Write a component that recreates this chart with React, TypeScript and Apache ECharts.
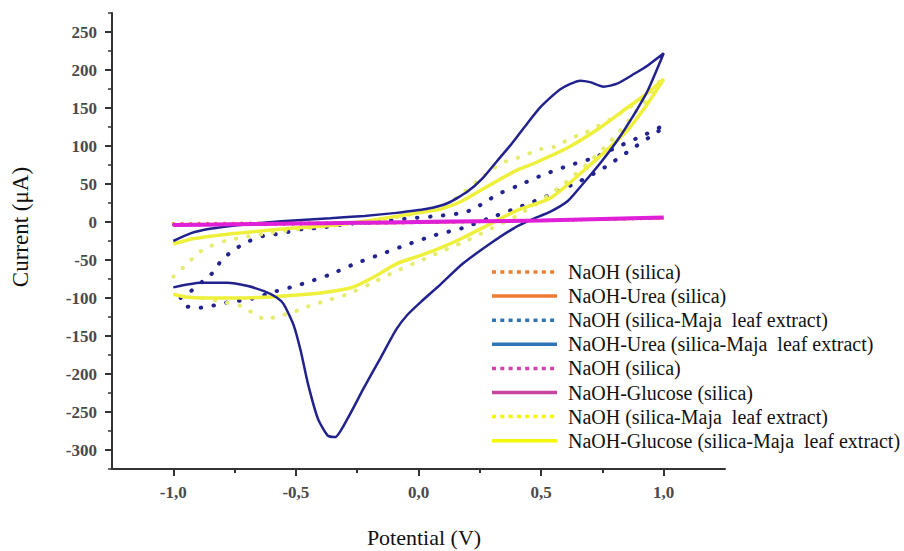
import React, { useEffect, useRef } from "react";
import * as echarts from "echarts";

// ---- data (potential V, current µA) ----
const xTickValues = [-1, -0.5, 0, 0.5, 1];
const xMinorTickValues = [-0.75, -0.25, 0.25, 0.75];
const yTickValues = [-300, -250, -200, -150, -100, -50, 0, 50, 100, 150, 200, 250];

const legendLabels = [
  "NaOH (silica)",
  "NaOH-Urea (silica)",
  "NaOH (silica-Maja  leaf extract)",
  "NaOH-Urea (silica-Maja  leaf extract)",
  "NaOH (silica)",
  "NaOH-Glucose (silica)",
  "NaOH (silica-Maja  leaf extract)",
  "NaOH-Glucose (silica-Maja  leaf extract)",
];
const legendColors = ["#ED7D31", "#ED7D31", "#2E75B6", "#2E75B6", "#D63FAE", "#C8449E", "#F5F50A", "#F5F50A"];
const legendDotted = [true, false, true, false, true, false, true, false];

const orangeDotted = [[-1, -2], [-0.5, -1], [0, 0], [0.5, 2], [1, 5]];
const orangeSolid = [[-1, -3], [-0.5, -2], [0, -1], [0.5, 2], [1, 5]];
const magentaDotted = [[-1, -4], [-0.5, -3], [0, -1], [0.5, 2], [1, 5]];

const navyDotted = [
  [-0.97, -100], [-0.94, -94], [-0.88, -78], [-0.84, -67], [-0.8, -49], [-0.74, -34], [-0.69, -25],
  [-0.63, -18], [-0.58, -16], [-0.53, -13], [-0.47, -9], [-0.41, -8], [-0.3, -3], [-0.155, 1],
  [-0.03, 5], [0.08, 8], [0.18, 12], [0.23, 18], [0.29, 30], [0.34, 39], [0.4, 47], [0.5, 61],
  [0.61, 74], [0.71, 84], [0.82, 100], [0.93, 116], [1.0, 127],
  [0.98, 120], [0.87, 96], [0.77, 74], [0.66, 54], [0.51, 32], [0.445, 24], [0.39, 17], [0.28, 4],
  [0.18, -8], [0.07, -17], [-0.04, -29], [-0.15, -42], [-0.26, -55], [-0.36, -69], [-0.45, -79],
  [-0.5, -84], [-0.58, -91], [-0.69, -102], [-0.74, -104], [-0.8, -107], [-0.85, -111],
  [-0.9, -113], [-0.95, -111], [-0.99, -108],
];

const yellowDotted = [
  [-1, -72], [-0.94, -54], [-0.9, -41], [-0.85, -32], [-0.79, -25], [-0.73, -21], [-0.6, -14],
  [-0.45, -8], [-0.3, -3], [-0.15, 3], [0.0, 12], [0.1, 20], [0.18, 38], [0.24, 54], [0.335, 77],
  [0.4, 84], [0.5, 96], [0.57, 100], [0.61, 109], [0.67, 116], [0.72, 124], [0.8, 138], [0.9, 160],
  [1.0, 190],
  [0.98, 178], [0.9, 150], [0.8, 112], [0.7, 80], [0.6, 52], [0.5, 28], [0.4, 8], [0.3, -8],
  [0.2, -24], [0.1, -38], [0.0, -52], [-0.1, -66], [-0.2, -82], [-0.29, -95], [-0.36, -102],
  [-0.41, -107], [-0.47, -113], [-0.52, -120], [-0.58, -124], [-0.62, -129], [-0.67, -121],
  [-0.72, -111], [-0.8, -105], [-0.88, -100],
];

const yellowSolid = [
  [-1, -29], [-0.92, -22], [-0.78, -16], [-0.65, -12], [-0.51, -8], [-0.37, -5], [-0.2, 2],
  [-0.02, 11], [0.09, 17], [0.18, 28], [0.25, 41], [0.32, 54], [0.4, 68], [0.47, 77], [0.61, 98],
  [0.74, 124], [0.85, 150], [0.935, 170], [1.0, 188],
  [0.935, 156], [0.85, 120], [0.7, 75], [0.54, 32], [0.4, 15], [0.29, -3], [0.18, -21],
  [0.09, -34], [0.0, -45], [-0.09, -55], [-0.18, -72], [-0.27, -86], [-0.33, -90], [-0.42, -94],
  [-0.58, -98], [-0.72, -100], [-0.86, -100], [-0.94, -99], [-1.0, -95],
];

const navySolid = [
  [-1.0, -25], [-0.93, -15], [-0.85, -9], [-0.73, -4], [-0.56, 1], [-0.36, 5], [-0.22, 8],
  [-0.09, 12], [0.03, 17], [0.12, 25], [0.2, 40], [0.26, 57], [0.32, 80], [0.38, 103],
  [0.43, 124], [0.5, 152], [0.58, 175], [0.66, 186], [0.7, 184], [0.755, 178], [0.81, 182],
  [0.88, 195], [0.935, 206], [1.0, 222],
  [0.935, 173], [0.88, 142], [0.81, 107], [0.74, 77], [0.67, 50], [0.61, 28], [0.54, 14],
  [0.46, 3], [0.39, -8], [0.29, -29], [0.18, -55], [0.09, -82], [0.01, -105], [-0.045, -122],
  [-0.09, -141], [-0.155, -179], [-0.224, -219], [-0.29, -259], [-0.34, -283], [-0.37, -281],
  [-0.41, -259], [-0.45, -214], [-0.48, -170], [-0.51, -135], [-0.55, -108], [-0.58, -99],
  [-0.63, -91], [-0.7, -84], [-0.78, -80], [-0.89, -80], [-1.0, -86],
];

const magentaSolid = [
  [-1, -4], [-0.75, -3], [-0.5, -2], [-0.25, -1], [0, 0], [0.25, 1], [0.5, 2], [0.75, 4], [1, 6],
];

const SERIF = '"Liberation Serif", "Times New Roman", serif';

export default function App() {
  const ref = useRef<HTMLDivElement>(null);
  useEffect(() => {
    if (!ref.current) return;
    const chart = echarts.init(ref.current, undefined, { renderer: "svg" });

    const dotted = (color: string, width: number, gap: number) => ({
      color,
      width,
      type: [0.5, gap],
      cap: "round",
    });
    const mk = (name: string, data: number[][], lineStyle: any, z: number) => ({
      name,
      type: "line",
      data,
      symbol: "none",
      smooth: 0.2,
      lineStyle,
      z,
      silent: true,
    });

    const legendGraphics: any[] = [];
    legendLabels.forEach((label, i) => {
      const y = 272 + i * 24.1;
      legendGraphics.push({
        type: "line",
        shape: { x1: 492, y1: y, x2: 557, y2: y },
        style: {
          stroke: legendColors[i],
          lineWidth: 3.5,
          lineDash: legendDotted[i] ? [4, 4.3] : null,
        },
      });
      legendGraphics.push({
        type: "text",
        x: 568,
        y,
        style: {
          text: label,
          font: `20px ${SERIF}`,
          fill: "#111",
          verticalAlign: "middle",
          align: "left",
        },
      });
    });

    const labelStyle = {
      color: "#4a4a4a",
      fontFamily: SERIF,
      fontSize: 17,
      fontWeight: "bold",
    };

    chart.setOption({
      animation: false,
      backgroundColor: "#ffffff",
      grid: { left: 112, right: 179, top: 13, bottom: 82, containLabel: false, outerBoundsMode: "none" },
      xAxis: [
        {
          type: "value",
          min: -1.25,
          max: 1.25,
          interval: 0.25,
          splitLine: { show: false },
          axisLine: { show: true, onZero: false, lineStyle: { color: "#333", width: 2 } },
          axisTick: { show: true, length: 7, customValues: xTickValues, lineStyle: { color: "#333", width: 2 } },
          axisLabel: {
            ...labelStyle,
            margin: 15,
            customValues: xTickValues,
            formatter: (v: number) => v.toFixed(1).replace(".", ","),
          },
        },
        {
          type: "value",
          min: -1.25,
          max: 1.25,
          interval: 0.25,
          position: "bottom",
          splitLine: { show: false },
          axisLine: { show: false, onZero: false },
          axisTick: { show: true, length: 4, customValues: xMinorTickValues, lineStyle: { color: "#333", width: 2 } },
          axisLabel: { show: false },
        },
      ],
      yAxis: [
        {
          type: "value",
          min: -325,
          max: 275,
          interval: 25,
          splitLine: { show: false },
          axisLine: { show: true, onZero: false, lineStyle: { color: "#333", width: 2 } },
          axisTick: { show: true, length: 7, customValues: yTickValues, lineStyle: { color: "#333", width: 2 } },
          axisLabel: { ...labelStyle, margin: 15, customValues: yTickValues },
        },
        {
          type: "value",
          min: -325,
          max: 275,
          interval: 25,
          position: "left",
          splitLine: { show: false },
          axisLine: { show: false, onZero: false },
          axisTick: { show: true, length: 4, lineStyle: { color: "#333", width: 1.5 } },
          axisLabel: { show: false },
        },
      ],
      series: [
        mk("NaOH (silica) orange", orangeDotted, dotted("#ED7D31", 3, 8), 1),
        mk("NaOH-Urea (silica)", orangeSolid, { color: "#ED7D31", width: 2.5 }, 1),
        mk("NaOH (silica) magenta", magentaDotted, dotted("#D63FAE", 3, 8), 1),
        mk("NaOH (silica-Maja leaf extract) navy", navyDotted, dotted("#23238F", 4, 12.5), 2),
        mk("NaOH (silica-Maja leaf extract) yellow", yellowDotted, dotted("#E6EC72", 4, 12), 2),
        mk("NaOH-Glucose (silica-Maja leaf extract)", yellowSolid, { color: "#EEF03C", width: 3.5 }, 3),
        mk("NaOH-Urea (silica-Maja leaf extract)", navySolid, { color: "#22228E", width: 2.5 }, 4),
        mk("NaOH-Glucose (silica)", magentaSolid, { color: "#E020D8", width: 4 }, 5),
      ],
      graphic: [
        {
          type: "text",
          x: 20,
          y: 227,
          rotation: Math.PI / 2,
          style: {
            text: "Current (μA)",
            font: `23px ${SERIF}`,
            fill: "#111",
            align: "center",
            verticalAlign: "middle",
          },
        },
        {
          type: "text",
          x: 424,
          y: 537,
          style: {
            text: "Potential (V)",
            font: `22px ${SERIF}`,
            fill: "#111",
            align: "center",
            verticalAlign: "middle",
          },
        },
        ...legendGraphics,
      ],
    });
    return () => chart.dispose();
  }, []);

  return (
    <div
      ref={ref}
      style={{ position: "fixed", left: 0, top: 0, width: 904, height: 551, background: "#fff" }}
    />
  );
}
